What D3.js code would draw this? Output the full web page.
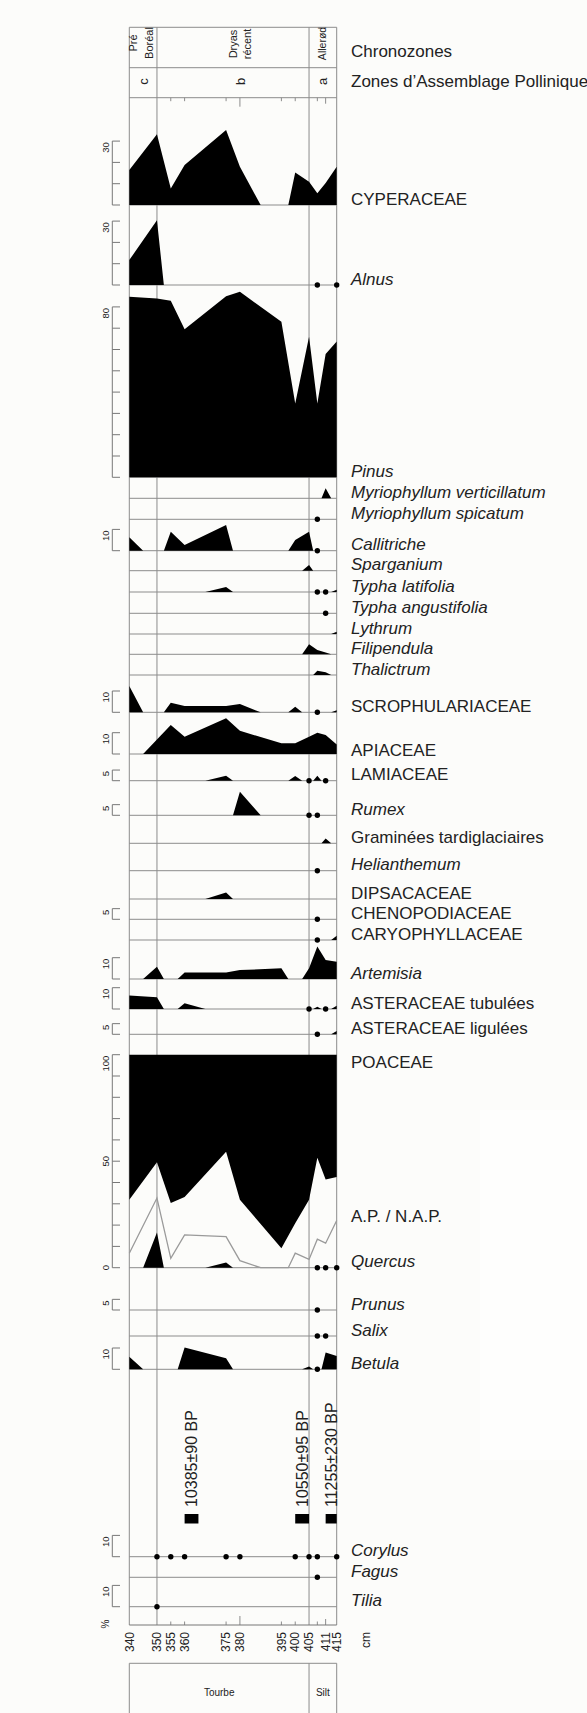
<!DOCTYPE html>
<html><head><meta charset="utf-8">
<script src="https://cdn.jsdelivr.net/npm/d3@7"></script>
<style>
body{margin:0;background:#fcfcfa}
svg{display:block}
text{font-family:"Liberation Sans",Arial,Helvetica,sans-serif;fill:#222}
</style>
</head><body>
<svg id="c" width="587" height="1713"></svg>
<script>
// ---------------- DATA ----------------
const P = "+"; // presence (trace) -> dot
const depths = [340,350,355,360,375,380,395,400,405,408,411,415];
const depthTickLabels = [340,350,355,360,375,380,395,400,405,411,415];
const sampleTicks = [355,360,375,380,395,400,408,411];
const longTicks = [380,411];
const zoneBounds = [350,405];

const chronozones = [["Pré","Boréal"],["Dryas","récent"],["Allerød"]];
const assemblageZones = ["c","b","a"];
const lithology = ["Tourbe","Silt"];
const dates = ["10385±90 BP","10550±95 BP","11255±230 BP"];
const dateIntervals = [[360,365],[400,405],[411,415]];

const cyperaceae   = [16.4,33.2,7.8,18.8,35.2,18.0,0,15.2,10.9,5.5,10.3,18];
const alnus        = [11.7,30.4,0,0,0,0,0,0,0,P,0,P];
const pinus        = [84.8,84,82.9,69.5,85,87.1,73,34.7,66,34.7,57.9,63.7];
const myrVert      = [0,0,0,0,0,0,0,0,0,0,4.7,0];
const myrSpic      = [0,0,0,0,0,0,0,0,0,P,0,0];
const callitriche  = [6.3,0,8.9,2.7,12.1,0,0,5.0,8.9,P,0,0];
const sparganium   = [0,0,0,0,0,0,0,0,2.7,0,0,0];
const typhaLat     = [0,0,0,0,2.4,0,0,0,0,P,P,1];
const typhaAng     = [0,0,0,0,0,0,0,0,0,0,P,0];
const lythrum      = [0,0,0,0,0,0,0,0,0,0,0,1];
const filipendula  = [0,0,0,0,0,0,0,0,4.7,2.0,0.8,0];
const thalictrum   = [0,0,0,0,0,0,0,0,0,2.0,1.3,0];
const scroph       = [12.3,0,4.5,3.0,3.0,3.9,0,2.6,0,P,0,1];
const apiaceae     = [0,6.8,13.6,8.1,16.8,10.9,5.0,5.0,8.1,10.0,8.9,4.5];
const lamiaceae    = [0,0,0,0,2.3,0,0,2.2,P,2.3,P,0];
const rumex        = [0,0,0,0,0,11,0,0,P,P,0,0];
const graminees    = [0,0,0,0,0,0,0,0,0,0,2.3,0];
const helianthemum = [0,0,0,0,0,0,0,0,0,P,0,0];
const dipsacaceae  = [0,0,0,0,3,0,0,0,0,0,0,0];
const chenopod     = [0,0,0,0,0,0,0,0,0,P,0,0];
const caryophyl    = [0,0,0,0,0,0,0,0,0,P,0,2];
const artemisia    = [0,5.8,0,3.0,3.0,4.2,5.0,0,5,15.2,8.9,8.1];
const asterTub     = [6.3,5.5,0,2.7,0,0,0,0,P,1,P,1.5];
const asterLig     = [0,0,0,0,0,0,0,0,0,P,0,1.5];
const apBoundary   = [31.9,49.5,30.4,33.2,54.4,31.9,9.1,20.9,31.9,51.6,41.4,42.6];
const apLine       = [6.8,32.7,4.4,15.4,14.6,3.3,0,6.8,3.9,13.4,11.5,22.2];
const quercus      = [0,16.5,0,0,2.5,0,0,0,0,P,P,P];
const prunus       = [0,0,0,0,0,0,0,0,0,P,0,0];
const salix        = [0,0,0,0,0,0,0,0,0,P,P,0];
const betula       = [5.9,0,0,10.2,5.2,0,0,0,1.3,P,7.9,6.3];
const corylus      = [0,P,P,P,P,P,0,P,P,P,0,P];
const fagus        = [0,0,0,0,0,0,0,0,0,P,0,0];
const tilia        = [0,P,0,0,0,0,0,0,0,0,0,0];

// ---------------- LAYOUT ----------------
const panels = [
 {name:"CYPERACEAE", v:cyperaceae, base:205, max:30, step:10, it:false},
 {name:"Alnus", v:alnus, base:285, max:30, step:10, it:true},
 {name:"Pinus", v:pinus, base:477.3, max:80, step:10, it:true},
 {name:"Myriophyllum verticillatum", v:myrVert, base:498.3, it:true},
 {name:"Myriophyllum spicatum", v:myrSpic, base:519.3, it:true},
 {name:"Callitriche", v:callitriche, base:550.7, max:10, step:10, it:true},
 {name:"Sparganium", v:sparganium, base:570.7, it:true},
 {name:"Typha latifolia", v:typhaLat, base:592, it:true},
 {name:"Typha angustifolia", v:typhaAng, base:613.3, it:true},
 {name:"Lythrum", v:lythrum, base:634, it:true},
 {name:"Filipendula", v:filipendula, base:654.3, it:true},
 {name:"Thalictrum", v:thalictrum, base:675, it:true},
 {name:"SCROPHULARIACEAE", v:scroph, base:712.3, max:10, step:10, it:false},
 {name:"APIACEAE", v:apiaceae, base:754, max:10, step:10, it:false, ly:756},
 {name:"LAMIACEAE", v:lamiaceae, base:780.7, max:5, step:5, it:false},
 {name:"Rumex", v:rumex, base:815.3, max:5, step:5, it:true},
 {name:"Graminées tardiglaciaires", v:graminees, base:843.3, it:false},
 {name:"Helianthemum", v:helianthemum, base:870.7, it:true},
 {name:"DIPSACACEAE", v:dipsacaceae, base:899, it:false},
 {name:"CHENOPODIACEAE", v:chenopod, base:919.3, max:5, step:5, it:false},
 {name:"CARYOPHYLLACEAE", v:caryophyl, base:940, it:false},
 {name:"Artemisia", v:artemisia, base:979, max:10, step:10, it:true},
 {name:"ASTERACEAE tubulées", v:asterTub, base:1009, max:10, step:10, it:false},
 {name:"ASTERACEAE ligulées", v:asterLig, base:1034.3, max:5, step:5, it:false},
 {name:"Quercus", v:quercus, base:1267.7, it:true},
 {name:"Prunus", v:prunus, base:1310, max:5, step:5, it:true},
 {name:"Salix", v:salix, base:1336, it:true},
 {name:"Betula", v:betula, base:1369.3, max:10, step:10, it:true},
 {name:"Corylus", v:corylus, base:1556.7, max:10, step:10, it:true},
 {name:"Fagus", v:fagus, base:1577.3, it:true},
 {name:"Tilia", v:tilia, base:1606.7, max:10, step:10, it:true},
];
const PX_PER_PCT = 2.13;
const TOP = 27.3, ROW1 = 67.7, ROW2 = 97.7, AXIS_Y = 1625;
const POA_BASE = 1267.7;
const GRID = "#8c8c8c";

// ---------------- DRAW ----------------
const svg = d3.select("#c");
svg.append("rect").attr("width",587).attr("height",1713).attr("fill","#fcfcfa");
svg.append("rect").attr("x",480).attr("y",1110).attr("width",107).attr("height",350).attr("fill","#fefefd");

const x = d3.scaleLinear().domain([340,415]).range([129.3,336.7]);
const X0 = x(340), X1 = x(415);
const num = v => (v === P ? 0 : v);

function profile(vals){
  const pts = [];
  const n = depths.length;
  vals.forEach((v,i)=>{
    const val = num(v);
    if (val > 0) pts.push([depths[i], val]);
    else {
      const l = i>0 ? (depths[i-1]+depths[i])/2 : depths[i];
      const r = i<n-1 ? (depths[i]+depths[i+1])/2 : depths[i];
      pts.push([l,0]); pts.push([r,0]);
    }
  });
  return pts;
}
function yScale(base, max){
  return d3.scaleLinear().domain([0,max]).range([base, base - max*PX_PER_PCT]);
}

const g = svg.append("g");
g.append("line").attr("x1",X0).attr("x2",X1).attr("y1",TOP).attr("y2",TOP).attr("stroke",GRID);
g.append("line").attr("x1",X0).attr("x2",X1).attr("y1",ROW1).attr("y2",ROW1).attr("stroke",GRID);
g.append("line").attr("x1",X0).attr("x2",X1).attr("y1",ROW2).attr("y2",ROW2).attr("stroke",GRID);
[340,...zoneBounds,415].forEach(d=>{
  g.append("line").attr("x1",x(d)).attr("x2",x(d)).attr("y1",TOP).attr("y2",AXIS_Y).attr("stroke",GRID);
});
panels.forEach(p=>{
  g.append("line").attr("x1",X0).attr("x2",X1).attr("y1",p.base).attr("y2",p.base).attr("stroke",GRID);
});
sampleTicks.forEach(d=>{
  const len = longTicks.includes(d) ? (d===380?9:6) : 3.5;
  g.append("line").attr("x1",x(d)).attr("x2",x(d)).attr("y1",ROW2).attr("y2",ROW2+len).attr("stroke",GRID);
  g.append("line").attr("x1",x(d)).attr("x2",x(d)).attr("y1",AXIS_Y).attr("y2",AXIS_Y-len).attr("stroke",GRID);
});
g.append("line").attr("x1",X0).attr("x2",X1).attr("y1",AXIS_Y).attr("y2",AXIS_Y).attr("stroke","#777");

function rtext(xc, y, str, size, anchor, opts={}){
  return svg.append("text")
    .attr("transform",`translate(${xc},${y}) rotate(-90)`)
    .attr("dy","0.35em").attr("text-anchor",anchor)
    .style("font-size",size+"px").style("font-style",opts.it?"italic":"normal")
    .text(str);
}

rtext(133.5,43,chronozones[0][0],11,"middle");
rtext(149.5,43,chronozones[0][1],11,"middle");
rtext(233,44,chronozones[1][0],11,"middle");
rtext(247.5,44,chronozones[1][1],11,"middle");
rtext(322,43.5,chronozones[2][0],10.5,"middle");
[143,240,322.7].forEach((xc,i)=> rtext(xc,81.5,assemblageZones[i],13,"middle"));
svg.append("text").attr("x",351).attr("y",56.5).style("font-size","17px").text("Chronozones");
svg.append("text").attr("x",351).attr("y",87).style("font-size","17px").text("Zones d\u2019Assemblage Pollinique");

const yPoa = yScale(POA_BASE,100);
const apArea = d3.area().x(d=>x(d[0])).y0(yPoa(100)).y1(d=>yPoa(d[1]));
svg.append("path").attr("d",apArea(depths.map((d,i)=>[d,apBoundary[i]]))).attr("fill","#000");
const apL = d3.line().x(d=>x(d[0])).y(d=>yPoa(d[1]));
svg.append("path").attr("d",apL(profile(apLine))).attr("fill","none").attr("stroke","#9a9a9a").attr("stroke-width",1.3);

panels.forEach(p=>{
  const ys = yScale(p.base, 100);
  const area = d3.area().x(d=>x(d[0])).y0(p.base).y1(d=>ys(d[1]));
  const pts = profile(p.v);
  if (pts.some(d=>d[1]>0)) svg.append("path").attr("d",area(pts)).attr("fill","#000");
  p.v.forEach((v,i)=>{
    if (v===P) svg.append("circle").attr("cx",x(depths[i])).attr("cy",p.base).attr("r",2.7).attr("fill","#000");
  });
  const ly = p.ly || p.base;
  svg.append("text").attr("x",351).attr("y",ly-0.5).style("font-size","17px")
    .style("font-style",p.it?"italic":"normal").text(p.name);
});
svg.append("text").attr("x",351).attr("y",1068).style("font-size","17px").text("POACEAE");
svg.append("text").attr("x",351).attr("y",1221.5).style("font-size","17px").text("A.P. / N.A.P.");

const SX = 112.3, STX = 120;
function scaleBar(base, max, step, labels){
  const ys = yScale(base, max);
  svg.append("line").attr("x1",SX).attr("x2",SX).attr("y1",ys(0)).attr("y2",ys(max)).attr("stroke","#777");
  d3.range(0, max+0.001, step).forEach(t=>{
    svg.append("line").attr("x1",SX).attr("x2",STX).attr("y1",ys(t)).attr("y2",ys(t)).attr("stroke","#777");
  });
  labels.forEach(([t,anchor])=> rtext(106, ys(t)+(anchor==="end"?1:0), String(t), 9.5, anchor));
}
panels.forEach(p=>{ if (p.max) scaleBar(p.base, p.max, p.step, [[p.max,"end"]]); });
scaleBar(POA_BASE, 100, 10, [[100,"end"],[50,"middle"],[0,"middle"]]);

dates.forEach((s,i)=>{
  const [a,b] = dateIntervals[i];
  const xc = (x(a)+x(b))/2;
  svg.append("rect").attr("x",x(a)).attr("y",1514).attr("width",x(b)-x(a)).attr("height",9.5).attr("fill","#000");
  rtext(xc, 1507, s, 16, "start");
});

depthTickLabels.forEach(d=> rtext(x(d), 1632, String(d), 12, "end"));
rtext(366, 1640, "cm", 12, "middle");
rtext(105.5, 1624, "%", 10, "middle");

const LB = 1663.3;
svg.append("line").attr("x1",X0).attr("x2",X1).attr("y1",LB).attr("y2",LB).attr("stroke",GRID);
[340,405,415].forEach(d=> svg.append("line").attr("x1",x(d)).attr("x2",x(d)).attr("y1",LB).attr("y2",1713).attr("stroke",GRID));
svg.append("text").attr("x",(x(340)+x(405))/2).attr("y",1696).attr("text-anchor","middle").style("font-size","10px").text(lithology[0]);
svg.append("text").attr("x",(x(405)+x(415))/2).attr("y",1696).attr("text-anchor","middle").style("font-size","10px").text(lithology[1]);
</script>
</body></html>
